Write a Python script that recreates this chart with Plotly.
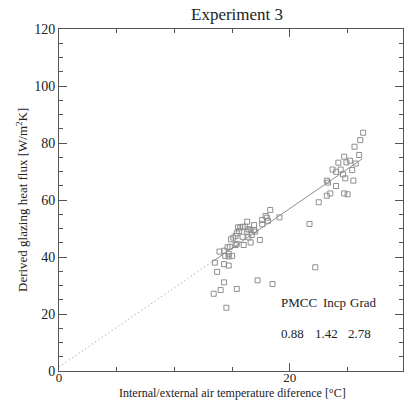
import plotly.graph_objects as go

# Data points (temperature difference [°C], derived glazing heat flux [W/m2K])
temp_diff = [
    26.35, 26.1, 25.6, 26.0, 24.7, 25.2, 24.9, 24.2, 25.7, 23.7, 24.0, 24.4, 25.4, 24.6,
    25.5, 24.8, 23.2, 23.3, 24.0, 23.5, 23.2, 24.7, 25.0, 22.5, 21.7, 22.2,
    18.3, 19.1, 17.9, 18.0, 17.6, 18.1, 17.6, 16.3, 16.9, 16.1, 15.9, 15.7, 15.5,
    16.4, 16.6, 16.3, 16.9, 17.0, 15.4, 15.6, 15.9, 16.4, 16.7, 15.3, 15.1, 17.4,
    14.9, 16.6, 16.0, 15.4, 15.3, 14.8, 14.6, 13.9, 14.3, 14.7, 14.4, 14.7, 15.0,
    13.5, 14.3, 14.7, 13.7, 14.3, 14.0, 13.4, 15.4, 17.2, 18.5, 14.5,
]
heat_flux = [
    83.6, 81.0, 78.7, 75.8, 75.2, 73.8, 73.2, 73.1, 72.8, 70.7, 69.9, 70.7, 70.5, 69.0,
    66.8, 67.6, 66.8, 66.1, 64.9, 62.3, 61.5, 62.3, 62.0, 59.2, 51.6, 36.4,
    56.5, 53.9, 54.4, 53.8, 53.0, 52.7, 51.5, 52.4, 51.2, 50.6, 50.6, 50.4, 50.4,
    49.7, 49.5, 48.9, 49.5, 48.9, 48.3, 49.1, 47.1, 46.9, 47.7, 47.4, 46.8, 46.0,
    46.2, 45.1, 44.2, 44.6, 44.2, 43.6, 43.4, 41.9, 42.2, 41.1, 40.4, 40.2, 40.4,
    38.0, 37.5, 37.0, 34.8, 31.1, 28.4, 27.1, 28.8, 31.8, 30.5, 22.2,
]

# Linear fit statistics
stat_names = ["PMCC", "Incp", "Grad"]
stat_values = ["0.88", "1.42", "2.78"]
intercept = 1.42
gradient = 2.78
fit_solid_x = [13.3, 26.3]
fit_dotted_x = [0.0, 13.3]

x_ticks = [0, 20]
y_ticks = [0, 20, 40, 60, 80, 100, 120]

title_text = "Experiment 3"
x_title = "Internal/external air temperature diference [°C]"
y_title = "Derived glazing heat flux [W/m<sup>2</sup>K]"

FONT = "Liberation Serif"
GREY = "#8f8f8f"

fig = go.Figure()
fig.add_trace(go.Scatter(
    x=fit_dotted_x, y=[intercept + gradient * v for v in fit_dotted_x],
    mode="lines", line=dict(color=GREY, width=1, dash="1px,3px"), hoverinfo="skip"))
fig.add_trace(go.Scatter(
    x=fit_solid_x, y=[intercept + gradient * v for v in fit_solid_x],
    mode="lines", line=dict(color=GREY, width=1), hoverinfo="skip"))
fig.add_trace(go.Scatter(
    x=temp_diff, y=heat_flux, mode="markers",
    marker=dict(symbol="square-open", size=5, color=GREY, line=dict(width=1, color=GREY))))

annotations = []
name_x = [19.05, 22.68, 25.02]
val_x = [19.05, 22.0, 24.9]
for nx, n in zip(name_x, stat_names):
    annotations.append(dict(x=nx, y=24.2, xref="x", yref="y", text=n, showarrow=False,
                            xanchor="left", yanchor="middle", font=dict(family=FONT, size=13, color="#222")))
for vx, v in zip(val_x, stat_values):
    annotations.append(dict(x=vx, y=13.3, xref="x", yref="y", text=v, showarrow=False,
                            xanchor="left", yanchor="middle", font=dict(family=FONT, size=13, color="#222")))

annotations.append(dict(x=(237 - 59) / 344, y=1.0, xref="paper", yref="paper", text=title_text,
                        showarrow=False, xanchor="center", yanchor="bottom", yshift=3,
                        font=dict(family=FONT, size=17, color="#222")))
annotations.append(dict(x=(232 - 59) / 344, y=0, xref="paper", yref="paper", text=x_title,
                        showarrow=False, xanchor="center", yanchor="bottom", yshift=-30,
                        borderpad=0, font=dict(family=FONT, size=12, color="#222")))
annotations.append(dict(x=0, y=0.5, xref="paper", yref="paper", text=y_title, textangle=-90,
                        showarrow=False, xanchor="center", yanchor="middle", xshift=-37,
                        font=dict(family=FONT, size=13, color="#222")))

axis_common = dict(
    showgrid=False, zeroline=False, showline=True, linecolor="#555", linewidth=1,
    mirror="ticks", ticks="inside", ticklen=8, tickcolor="#555", tickwidth=1,
    minor=dict(ticks="inside", ticklen=4, tickcolor="#555", tickwidth=1, dtick=5, showgrid=False),
)

fig.update_layout(
    width=404, height=401,
    margin=dict(l=59, r=1, t=29, b=30),
    paper_bgcolor="white", plot_bgcolor="white",
    showlegend=False,
    annotations=annotations,
    xaxis=dict(range=[0, 29.8], tickvals=x_ticks, ticktext=[str(v) for v in x_ticks],
               ticklabelstandoff=-6, tickfont=dict(family=FONT, size=13, color="#222"), **axis_common),
    yaxis=dict(range=[0, 120], tickvals=y_ticks, ticktext=[str(v) for v in y_ticks],
               tickfont=dict(family=FONT, size=14, color="#222"), **axis_common),
)
fig.write_html("out.html")
